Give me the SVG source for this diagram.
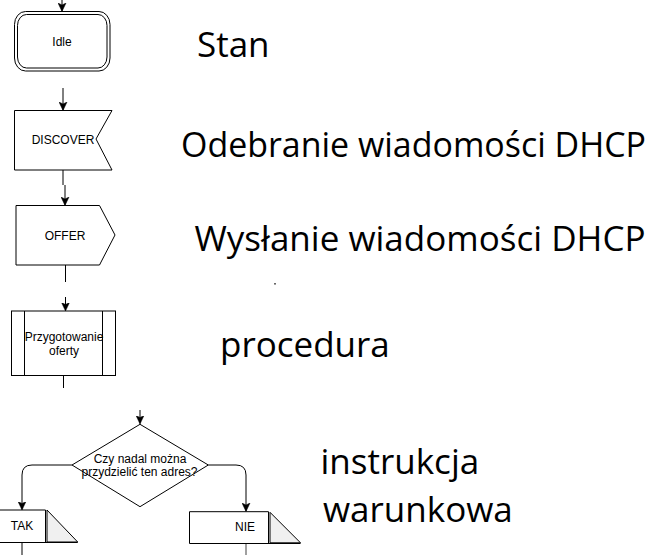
<svg xmlns="http://www.w3.org/2000/svg" width="659" height="555" viewBox="0 0 659 555">
<style>
.s{fill:#fff;stroke:#000;stroke-width:1}
.l{font-family:"Liberation Sans",Arial,sans-serif;font-size:12px;fill:#000;text-anchor:middle}
.b{font-family:"Open Sans","Noto Sans",sans-serif;font-size:35px;fill:#000}
.c{fill:none;stroke:#000;stroke-width:1}
.tri{fill:#f0f0f0;stroke:#000;stroke-width:1}
</style>
<defs>
<marker id="ah" markerWidth="9" markerHeight="9" refX="8" refY="4.5" orient="auto" markerUnits="userSpaceOnUse">
<path d="M0,0.5 L8.5,4.5 L0,8.5 L2,4.5 z" fill="#000" stroke="#000" stroke-width="0.5"/>
</marker>
</defs>
<rect width="659" height="555" fill="#fff"/>
<g id="connectors">
<path class="c" d="M62,0 V11" marker-end="url(#ah)"/>
<path class="c" d="M63,88 V110" marker-end="url(#ah)"/>
<path class="c" d="M63,170 V185"/>
<path class="c" d="M65,185 V205" marker-end="url(#ah)"/>
<path class="c" d="M65.5,265 V282"/>
<path class="c" d="M65.5,297 V310.5" marker-end="url(#ah)"/>
<path class="c" d="M63.5,376 V388"/>
<path class="c" d="M140,410 V423.5" marker-end="url(#ah)"/>
<path class="c" d="M72,465 H32 Q22,465 22,475 V509.5" marker-end="url(#ah)"/>
<path class="c" d="M208.3,465 H236 Q246,465 246,475 V511" marker-end="url(#ah)"/>
<path class="c" d="M22,542.5 V555"/>
<path class="c" d="M246,544 V555" style="stroke:#808080;stroke-width:1.5"/>
</g>
<g id="node-idle">
<rect class="s" x="14.5" y="11.5" width="95.5" height="59.5" rx="11" ry="13"/>
<rect class="s" x="17.5" y="14.5" width="89.5" height="53.5" rx="9" ry="11"/>
<text class="l" x="62" y="45.5">Idle</text>
</g>
<g id="node-discover">
<polygon class="s" points="14.5,110.5 112,110.5 96,139 112,170 14.5,170"/>
<text class="l" x="63" y="144">DISCOVER</text>
</g>
<g id="node-offer">
<polygon class="s" points="16,205.5 99.5,205.5 115,235 99.5,265 16,265"/>
<text class="l" x="65" y="239.5">OFFER</text>
</g>
<g id="node-procedure">
<rect class="s" x="11.5" y="311" width="104" height="64.5"/>
<path class="c" d="M24.5,311 V375.5 M102.5,311 V375.5"/>
<text class="l" x="64" y="341">Przygotowanie</text>
<text class="l" x="64" y="355">oferty</text>
</g>
<g id="node-decision">
<polygon class="s" points="140,424.3 208.3,465 140,506.7 72,465"/>
<text class="l" x="140" y="463">Czy nadal można</text>
<text class="l" x="139.5" y="476">przydzielić ten adres?</text>
</g>
<g id="node-tak">
<path class="c" d="M-1,510 H45.5 V542.5 M-1,542.5 H77.7"/>
<polygon class="tri" points="47,510 47,542 77.7,542"/>
<text class="l" x="22" y="530">TAK</text>
</g>
<g id="node-nie">
<path class="c" d="M189.5,511.7 H268.5 V543.5 M189.5,511.7 V543.5 H300.5"/>
<polygon class="tri" points="270,512.3 270,542.8 300.5,542.8"/>
<text class="l" x="245" y="531">NIE</text>
</g>
<g id="labels">
<text class="b" x="197" y="57">Stan</text>
<text class="b" x="181" y="157" font-size="33" textLength="465" lengthAdjust="spacingAndGlyphs">Odebranie wiadomości DHCP</text>
<text class="b" x="194.5" y="251" font-size="33" textLength="451" lengthAdjust="spacingAndGlyphs">Wysłanie wiadomości DHCP</text>
<text class="b" x="220" y="357">procedura</text>
<text class="b" x="320.5" y="474">instrukcja</text>
<text class="b" x="323" y="522">warunkowa</text>
<rect x="274.2" y="283" width="1.6" height="1.6" fill="#444"/>
</g>
</svg>
